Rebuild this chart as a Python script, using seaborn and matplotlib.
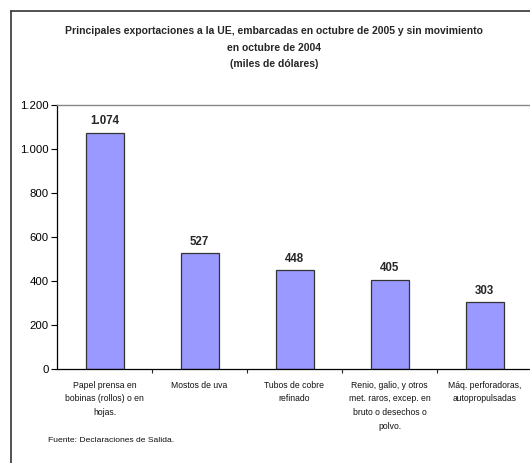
import matplotlib
matplotlib.use("Agg")
import matplotlib.pyplot as plt
from matplotlib.lines import Line2D
from matplotlib.ticker import FuncFormatter, FixedLocator
import matplotlib.transforms as mtransforms
import pandas as pd
import seaborn as sns

# Données (miles de dólares)
productos = [
    "Papel prensa en\nbobinas (rollos) o en\nhojas.",
    "Mostos de uva",
    "Tubos de cobre\nrefinado",
    "Renio, galio, y otros\nmet. raros, excep. en\nbruto o desechos o\npolvo.",
    "Máq. perforadoras,\nautopropulsadas",
]
valores = [1074, 527, 448, 405, 303]
y_ticks = [0, 200, 400, 600, 800, 1000, 1200]

titulo = ["Principales exportaciones a la UE, embarcadas en octubre de 2005 y sin movimiento",
          "en octubre de 2004", "(miles de dólares)"]
fuente = "Fuente: Declaraciones de Salida."


def miles(v, pos=None):
    return f"{int(round(v)):,}".replace(",", ".")


sns.set_style("white")
plt.rcParams["font.family"] = ["Liberation Sans", "DejaVu Sans"]

df = pd.DataFrame({"producto": productos, "valor": valores})

W, H = 530, 463
fig = plt.figure(figsize=(W / 100, H / 100), dpi=100)
ax = fig.add_axes([57 / W, 1 - 369 / H, 475 / W, 264 / H])

sns.barplot(data=df, x="producto", y="valor", color="#9999FF", saturation=1,
            width=0.4, edgecolor="#333333", linewidth=0.9, ax=ax)

ax.set_xlim(-0.5, 4.5)
ax.set_ylim(0, 1200)
ax.set_yticks(y_ticks)
ax.yaxis.set_major_formatter(FuncFormatter(miles))
ax.tick_params(axis="y", direction="out", length=4, width=0.8, colors="black",
               labelsize=8.2, pad=2, left=True)

# étiquettes des catégories, ligne par ligne (interligne fixe)
ax.tick_params(axis="x", which="major", length=0, labelbottom=False)
trans = mtransforms.blended_transform_factory(ax.transData, ax.transAxes)
for i, lbl in enumerate(productos):
    for k, ligne in enumerate(lbl.split("\n")):
        dy_px = 16 + k * 13.8
        ax.annotate(ligne, xy=(i, 0), xycoords=trans,
                    xytext=(0, -dy_px * 0.72), textcoords="offset points",
                    ha="center", va="center", fontsize=6.2, color="#111111",
                    annotation_clip=False)
ax.xaxis.set_minor_locator(FixedLocator([0.5, 1.5, 2.5, 3.5]))
ax.tick_params(axis="x", which="minor", direction="out", length=3, width=0.8,
               bottom=True)
ax.set_xlabel("")
ax.set_ylabel("")

for side in ["left", "bottom"]:
    ax.spines[side].set_color("black")
    ax.spines[side].set_linewidth(0.9)
for side in ["top", "right"]:
    ax.spines[side].set_color("#888888")
    ax.spines[side].set_linewidth(1.0)

ax.bar_label(ax.containers[0], labels=[miles(v) for v in valores],
             padding=4, fontsize=8.3, fontweight="bold")

# titre, une ligne à la fois
for ligne, y_px in zip(titulo, [31, 48, 64]):
    fig.text(274 / W, 1 - y_px / H, ligne, ha="center", va="center",
             fontsize=7.45, fontweight="bold")
fig.text(48 / W, 1 - 441 / H, fuente, ha="left", va="center",
         fontsize=6.1, color="#111111")

# Cadre extérieur du graphique
fig.add_artist(Line2D([11 / W, 1.05], [1 - 11 / H, 1 - 11 / H],
                      transform=fig.transFigure, color="#333333", lw=1.2))
fig.add_artist(Line2D([11 / W, 11 / W], [1 - 11 / H, -0.05],
                      transform=fig.transFigure, color="#333333", lw=1.2))

fig.savefig("out.png", dpi=100)
